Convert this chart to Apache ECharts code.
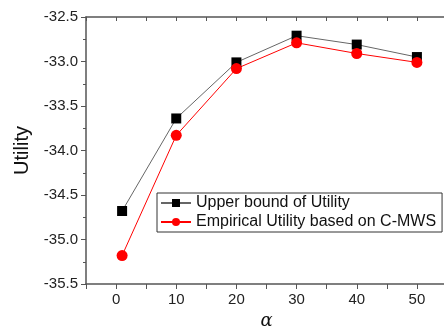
<!DOCTYPE html>
<html><head><meta charset="utf-8">
<script src="https://cdn.jsdelivr.net/npm/echarts@6/dist/echarts.min.js"></script>
<style>html,body{margin:0;padding:0;background:#fff}#c{width:444px;height:326px}</style>
</head><body><div id="c"></div>
<script>
const alphas = [1, 10, 20, 30, 40, 50];
const upperBound = [-34.68, -33.64, -33.01, -32.71, -32.81, -32.95];
const empirical = [-35.18, -33.83, -33.08, -32.79, -32.91, -33.01];
const seriesNames = ['Upper bound of Utility', 'Empirical Utility based on C-MWS'];
const chart = echarts.init(document.getElementById('c'));
const font = 'Liberation Sans, Arial, sans-serif';
const axisCol = '#555';
chart.setOption({
  animation: false,
  grid: {left: 86, top: 17, bottom: 42, right: -3, outerBoundsMode: 'none', containLabel: false},
  legend: {
    left: 157, top: 193, orient: 'vertical',
    borderColor: '#333', borderWidth: 1, padding: [2, 6, 2, 3],
    itemGap: 3, itemWidth: 30, itemHeight: 10,
    textStyle: {fontFamily: font, fontSize: 16, color: '#111'},
    data: seriesNames
  },
  xAxis: [{
    type: 'value', min: -5, max: 55, interval: 5,
    name: 'α', nameLocation: 'middle', nameGap: 24,
    nameTextStyle: {fontFamily: 'DejaVu Serif, serif', fontStyle: 'italic', fontSize: 18, color: '#111'},
    axisLine: {show: true, onZero: false, lineStyle: {color: axisCol, width: 1.5}},
    axisTick: {show: true, length: 5, lineStyle: {color: axisCol}},
    splitLine: {show: false},
    axisLabel: {fontFamily: font, fontSize: 15, color: '#222', margin: 8,
      formatter: v => (v >= 0 && v <= 50 && v % 10 === 0) ? String(v) : ''}
  }, {
    type: 'value', min: -5, max: 55, interval: 5, position: 'top',
    axisLine: {show: true, onZero: false, lineStyle: {color: axisCol, width: 1.5}},
    axisTick: {show: true, inside: true, length: 4, lineStyle: {color: axisCol}},
    splitLine: {show: false}, axisLabel: {show: false}
  }],
  yAxis: {
    type: 'value', min: -35.5, max: -32.5, interval: 0.5,
    name: 'Utility', nameLocation: 'middle', nameGap: 54,
    nameTextStyle: {fontFamily: font, fontSize: 20, color: '#111'},
    axisLine: {show: true, onZero: false, lineStyle: {color: axisCol, width: 1.5}},
    axisTick: {show: true, length: 5, lineStyle: {color: axisCol}},
    minorTick: {show: true, splitNumber: 2, length: 3, lineStyle: {color: axisCol}},
    splitLine: {show: false},
    axisLabel: {fontFamily: font, fontSize: 15, color: '#222', margin: 8,
      formatter: v => v.toFixed(1)}
  },
  series: [{
    name: seriesNames[0], type: 'line', xAxisIndex: 0,
    data: alphas.map((a, i) => [a, upperBound[i]]),
    symbol: 'rect', symbolSize: 10,
    itemStyle: {color: '#000'}, lineStyle: {color: '#666', width: 1}
  }, {
    name: seriesNames[1], type: 'line', xAxisIndex: 0,
    data: alphas.map((a, i) => [a, empirical[i]]),
    symbol: 'circle', symbolSize: 11,
    itemStyle: {color: '#ff0000'}, lineStyle: {color: '#ff0000', width: 1}
  }]
});
</script></body></html>
